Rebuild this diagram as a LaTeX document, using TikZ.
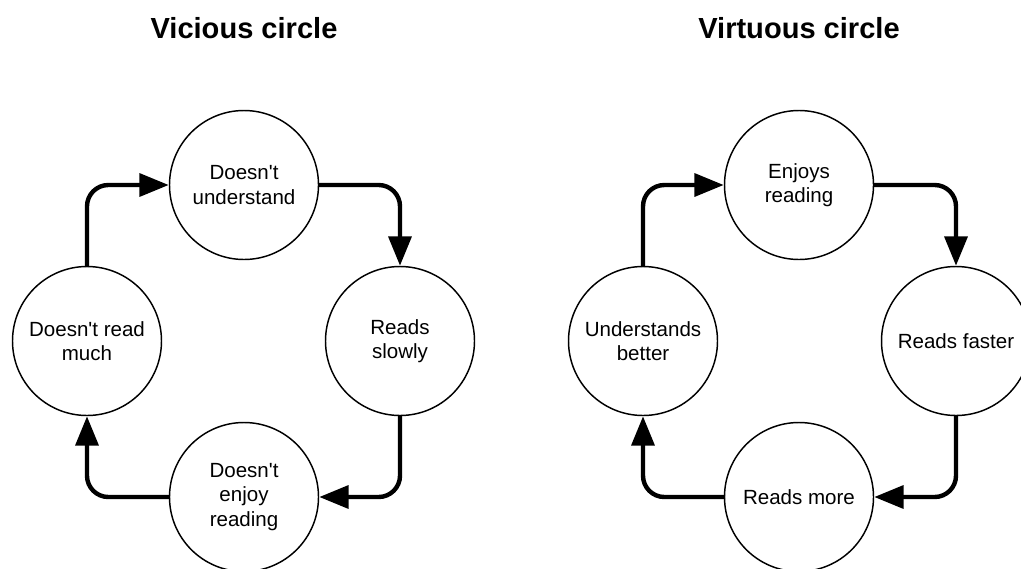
\documentclass[tikz,border=0pt]{standalone}
\usepackage{fontspec}
\setmainfont{Liberation Sans}
\usetikzlibrary{arrows.meta}
\newcommand{\ap}{\textquotesingle}
\begin{document}
\begin{tikzpicture}[x=0.75pt,y=-0.75pt,
  state/.style={circle,draw,line width=1.1pt,minimum size=111.75pt,inner sep=0pt,align=center,font=\fontsize{15.4}{18.4}\selectfont},
  title/.style={font=\fontsize{21.8}{26}\selectfont\bfseries},
  conn/.style={line width=3.3pt,rounded corners=16pt,-{Triangle[length=22pt,width=17pt]}}]
\useasboundingbox (0,0) rectangle (1021,568);
% titles
\node[title] (t1) at (244,28) {Vicious circle};
\node[title] (t2) at (799,28) {Virtuous circle};
% vicious circle
\node[state] (A) at (244,185) {Doesn\ap t\\understand};
\node[state] (B) at (87,341) {Doesn\ap t read\\much};
\node[state] (C) at (400,341) {Reads\\slowly};
\node[state] (D) at (244,497) {Doesn\ap t\\enjoy\\reading};
\draw[conn] (A.east) -| (C.north);
\draw[conn] (C.south) |- (D.east);
\draw[conn] (D.west) -| (B.south);
\draw[conn] (B.north) |- (A.west);
% virtuous circle
\node[state] (E) at (799,185) {Enjoys\\reading};
\node[state] (F) at (643,341) {Understands\\better};
\node[state] (G) at (956,341) {Reads faster};
\node[state] (H) at (799,497) {Reads more};
\draw[conn] (E.east) -| (G.north);
\draw[conn] (G.south) |- (H.east);
\draw[conn] (H.west) -| (F.south);
\draw[conn] (F.north) |- (E.west);
\end{tikzpicture}
\end{document}
